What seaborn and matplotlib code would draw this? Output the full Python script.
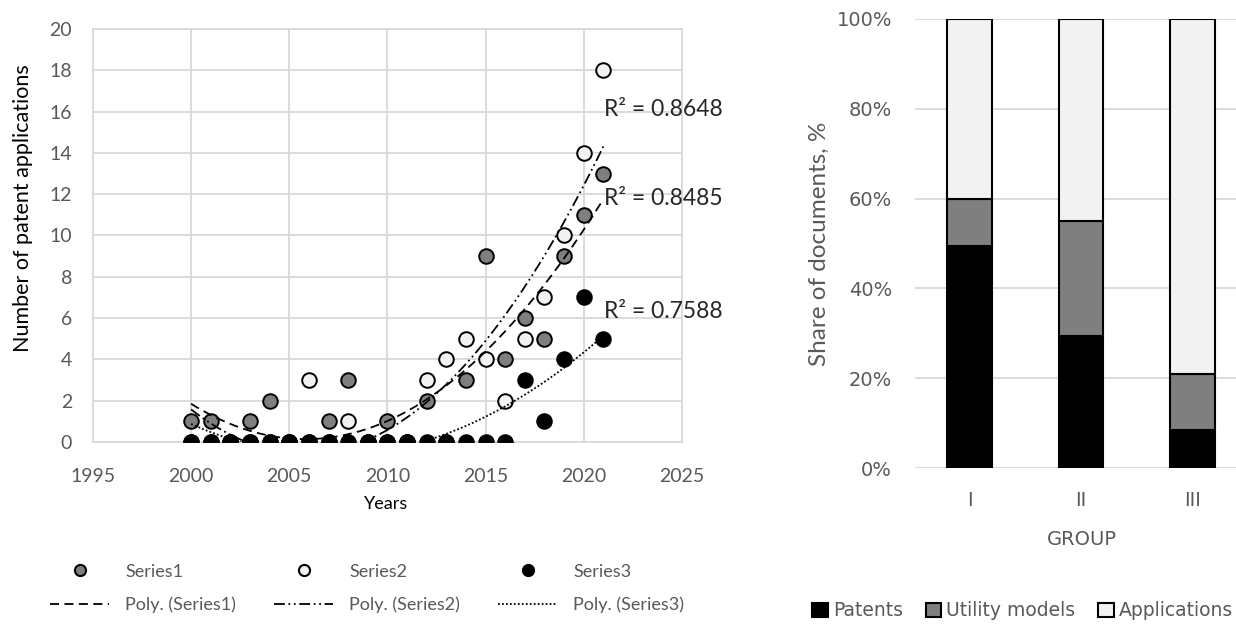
import matplotlib
matplotlib.use("Agg")
import matplotlib.pyplot as plt
from matplotlib.lines import Line2D
from matplotlib.patches import Patch
import seaborn as sns
import numpy as np
import pandas as pd

# --- data: left scatter ---
years = list(range(2000, 2022))
series1 = [1, 1, 0, 1, 2, 0, 0, 1, 3, 0, 1, 0, 2, 0, 3, 9, 4, 6, 5, 9, 11, 13]
series2 = [0, 0, 0, 0, 0, 0, 3, 0, 1, 0, 0, 0, 3, 4, 5, 4, 2, 5, 7, 10, 14, 18]
series3 = [0, 0, 0, 0, 0, 0, 0, 0, 0, 0, 0, 0, 0, 0, 0, 0, 0, 3, 1, 4, 7, 5]
r2_labels = ["R² = 0.8485", "R² = 0.8648", "R² = 0.7588"]

# --- data: right stacked bars (shares, %) ---
groups = ["I", "II", "III"]
patents = [49.5, 29.5, 8.5]
utility = [10.5, 25.5, 12.5]
applications = [40.0, 45.0, 79.0]

sns.set_style("white")
plt.rcParams["font.family"] = ["Lato", "DejaVu Sans"]

fig = plt.figure(figsize=(12.36, 6.25), dpi=100)
grey_txt = "#595959"
grid_c = "#d9d9d9"

# ---------------- left chart ----------------
ax = fig.add_axes([0.0752, 0.2928, 0.4765, 0.6608])
df = pd.DataFrame({"year": years, "Series1": series1, "Series2": series2, "Series3": series3})
fills = {"Series1": "#7f7f7f", "Series2": "#f2f2f2", "Series3": "#000000"}
styles = {"Series1": (0, (5, 3)), "Series2": (0, (6, 2, 1, 2, 1, 2)), "Series3": (0, (1, 1.2))}
r2_pos = {"Series1": 11.8, "Series2": 16.1, "Series3": 6.3}
for i, name in enumerate(["Series1", "Series2", "Series3"]):
    sns.scatterplot(data=df, x="year", y=name, ax=ax, s=110, color=fills[name],
                    edgecolor="black", linewidth=1.4, zorder=3 + i, legend=False)
    # 2nd order polynomial trend, as in the original
    coef = np.polyfit(df["year"] - 2000, df[name], 2)
    xs = np.linspace(2000, 2021, 200)
    ys = np.polyval(coef, xs - 2000)
    ax.plot(xs, ys, color="black", lw=1.3, linestyle=styles[name], zorder=6)
    ax.text(2021.05, r2_pos[name], r2_labels[i], fontsize=16.5, va="center", ha="left", zorder=7)

ax.set_xlim(1995, 2025)
ax.set_ylim(0, 20)
ax.set_xticks(range(1995, 2026, 5))
ax.set_yticks(range(0, 21, 2))
ax.grid(True, color=grid_c, lw=1.3)
for s in ax.spines.values():
    s.set_color(grid_c)
    s.set_linewidth(1.3)
ax.tick_params(axis="both", labelsize=14, colors=grey_txt, length=0, pad=15)
ax.tick_params(axis="x", pad=19)
ax.set_xlabel("Years", fontsize=13, color="black")
ax.xaxis.set_label_coords(0.497, -0.13)
ax.set_ylabel("Number of patent applications", fontsize=15.5, color="black")
ax.yaxis.set_label_coords(-0.102, 0.567)

handles = []
labels = []
for name in ["Series1", "Series2", "Series3"]:
    handles.append(Line2D([], [], ls="none", marker="o", markersize=8,
                          markerfacecolor=fills[name], markeredgecolor="black", markeredgewidth=1.5))
    labels.append(name)
    handles.append(Line2D([], [], color="black", lw=1.3, linestyle=styles[name]))
    labels.append("Poly. (%s)" % name)
fig.legend(handles, labels, ncol=3, loc="center left", bbox_to_anchor=(50 / 1236, 0.0584),
           frameon=False, fontsize=13, labelcolor=grey_txt, handlelength=3.27,
           handletextpad=0.9, columnspacing=2.1, labelspacing=0.95,
           borderpad=0, borderaxespad=0)

# ---------------- right chart ----------------
ax2 = fig.add_axes([0.7403, 0.2512, 0.2706, 0.7184])
pos = np.arange(len(groups))
w = 0.40
ax2.bar(pos, patents, width=w, color="black", edgecolor="black", lw=1.5, zorder=3)
ax2.bar(pos, utility, width=w, bottom=patents, color="#7f7f7f", edgecolor="black", lw=1.5, zorder=3)
bottom2 = [a + b for a, b in zip(patents, utility)]
ax2.bar(pos, applications, width=w, bottom=bottom2, color="#f2f2f2", edgecolor="black", lw=1.5, zorder=3)
ax2.set_xlim(-0.49, 2.51)
ax2.set_ylim(0, 100)
ax2.set_xticks(pos)
ax2.set_xticklabels(groups)
ax2.set_yticks(range(0, 101, 20))
ax2.set_yticklabels(["%d%%" % v for v in range(0, 101, 20)])
ax2.yaxis.grid(True, color=grid_c, lw=1.3)
ax2.xaxis.grid(False)
for s in ax2.spines.values():
    s.set_visible(False)
ax2.axhline(0, color=grid_c, lw=1.3)
ax2.tick_params(axis="both", labelsize=14, colors=grey_txt, length=0, pad=16.5)
for t in ax2.get_xticklabels() + ax2.get_yticklabels():
    t.set_family("DejaVu Sans")
ax2.set_xlabel("GROUP", fontsize=14, color=grey_txt, family="DejaVu Sans")
ax2.xaxis.set_label_coords(0.5, -0.138)
ax2.set_ylabel("Share of documents, %", fontsize=17.5, color=grey_txt)
ax2.yaxis.set_label_coords((830 - 915) / 334.5, 0.5)

leg_handles = [Patch(facecolor="black", edgecolor="black", lw=1.5),
               Patch(facecolor="#7f7f7f", edgecolor="black", lw=1.5),
               Patch(facecolor="#f2f2f2", edgecolor="black", lw=1.5)]
fig.legend(leg_handles, ["Patents", "Utility models", "Applications"], ncol=3,
           loc="center left", bbox_to_anchor=(812 / 1236, 0.0224), frameon=False,
           labelcolor=grey_txt, handlelength=0.85, handleheight=0.85,
           handletextpad=0.27, columnspacing=1.2, borderpad=0, borderaxespad=0,
           prop={"family": "DejaVu Sans", "size": 13.5})

fig.savefig("out.png", dpi=100)
